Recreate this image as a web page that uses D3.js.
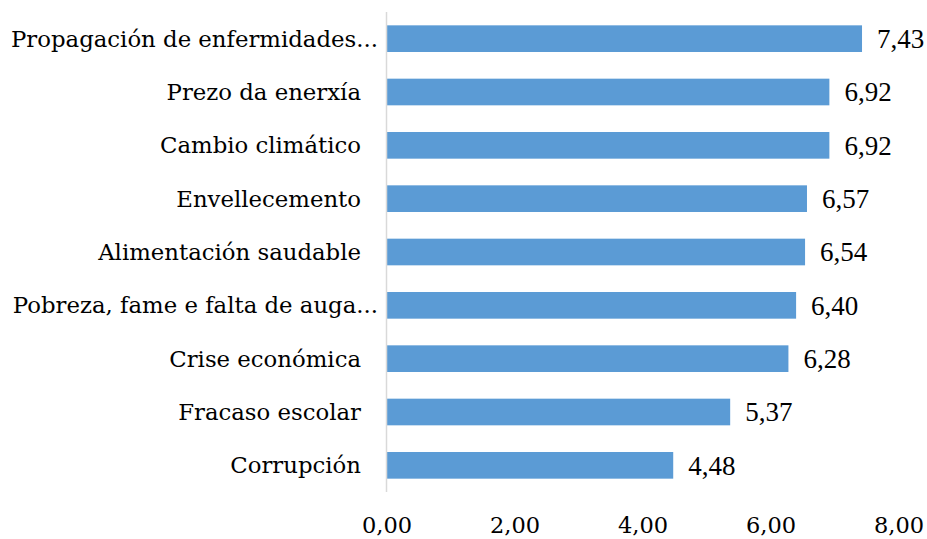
<!DOCTYPE html>
<html><head><meta charset="utf-8">
<script src="https://cdn.jsdelivr.net/npm/d3@7"></script>
<style>body{margin:0;background:#fff}</style>
</head><body>
<svg id="c" width="927" height="539"></svg>
<script>
const categories = ["Propagación de enfermidades...","Prezo da enerxía","Cambio climático","Envellecemento","Alimentación saudable","Pobreza, fame e falta de auga...","Crise económica","Fracaso escolar","Corrupción"];
const values = [7.43,6.92,6.92,6.57,6.54,6.40,6.28,5.37,4.48];
const tickValues = [0,2,4,6,8];
const fmt = v => d3.format(".2f")(v).replace(".", ",");

const svg = d3.select("#c");
const x = d3.scaleLinear().domain([0,8]).range([386.5, 898.5]);
const y = d3.scaleBand().domain(categories).range([12, 492]).paddingInner(0.5).paddingOuter(0.25);

svg.selectAll("rect").data(values).join("rect")
  .attr("x", x(0)).attr("y", (d,i)=>y(categories[i]))
  .attr("width", d=>x(d)-x(0)).attr("height", y.bandwidth())
  .attr("fill", "#5B9BD5");

svg.append("line").attr("x1", x(0)).attr("x2", x(0)).attr("y1", 12).attr("y2", 492)
  .attr("stroke", "#D9D9D9").attr("stroke-width", 1.5);

const labelFont = "'DejaVu Serif'";
svg.selectAll("text.cat").data(categories).join("text").attr("class","cat")
  .attr("x", d => d.endsWith("...") ? 378 : 361)
  .attr("y", d => y(d) + y.bandwidth()/2)
  .attr("dy", "0.35em").attr("text-anchor","end")
  .attr("font-family", labelFont).attr("font-size", 22.8).attr("fill","#000")
  .text(d=>d);

svg.selectAll("text.val").data(values).join("text").attr("class","val")
  .attr("x", d => x(d) + 15)
  .attr("y", (d,i) => y(categories[i]) + y.bandwidth()/2)
  .attr("dy", "0.34em")
  .attr("font-family", "'Liberation Serif'").attr("font-size", 27).attr("fill","#000")
  .text(fmt);

const ax = svg.append("g").attr("transform", "translate(0,525)")
  .call(d3.axisBottom(x).tickValues(tickValues).tickFormat(fmt).tickSize(0).tickPadding(0));
ax.select(".domain").remove();
ax.selectAll("text").attr("font-family", labelFont).attr("font-size",22.5).attr("fill","#000").attr("dy","0.35em");
</script>
</body></html>
